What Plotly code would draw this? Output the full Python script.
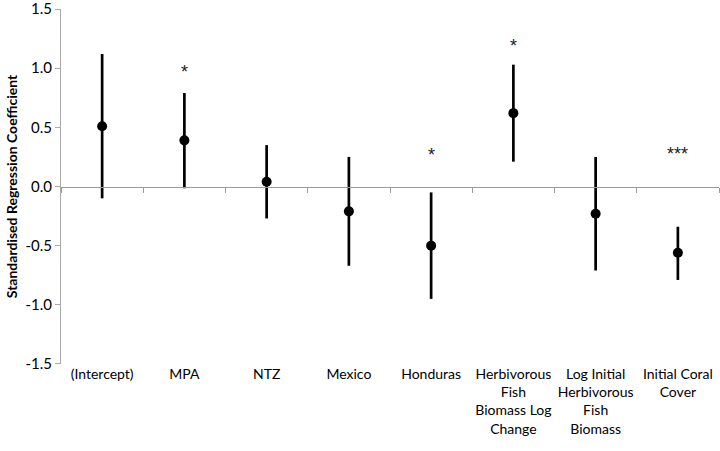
import plotly.graph_objects as go

categories = ["(Intercept)", "MPA", "NTZ", "Mexico", "Honduras",
              "Herbivorous<br>Fish<br>Biomass Log<br>Change",
              "Log Initial<br>Herbivorous<br>Fish<br>Biomass",
              "Initial Coral<br>Cover"]
estimates = [0.51, 0.39, 0.04, -0.21, -0.50, 0.62, -0.23, -0.56]
upper = [1.12, 0.79, 0.35, 0.25, -0.05, 1.03, 0.25, -0.34]
lower = [-0.10, -0.015, -0.27, -0.67, -0.95, 0.21, -0.71, -0.79]
sig_labels = ["", "*", "", "", "*", "*", "", "***"]
sig_y = [None, 0.965, None, None, 0.265, 1.19, None, 0.275]
y_ticks = [-1.5, -1.0, -0.5, 0.0, 0.5, 1.0, 1.5]

x = list(range(len(categories)))
err_plus = [u - e for u, e in zip(upper, estimates)]
err_minus = [e - l for e, l in zip(estimates, lower)]

font_family = "Lato, 'Open Sans', sans-serif"

fig = go.Figure()
fig.add_trace(go.Scatter(
    x=x, y=estimates, mode="markers",
    marker=dict(color="black", size=10),
    error_y=dict(type="data", symmetric=False, array=err_plus, arrayminus=err_minus,
                 color="black", thickness=2.7, width=0),
    showlegend=False, hoverinfo="skip",
))
# invisible trace for the zero-line axis
fig.add_trace(go.Scatter(x=[-0.5, 7.5], y=[0, 0], xaxis="x2", mode="lines",
                         line=dict(width=0), showlegend=False, hoverinfo="skip"))

for xi, lab, yy in zip(x, sig_labels, sig_y):
    if lab:
        fig.add_annotation(x=xi, y=yy, text=lab, showarrow=False,
                           font=dict(size=18, color="#222222",
                                     family="'Liberation Sans', Arial, sans-serif"))

fig.update_layout(
    width=720, height=451,
    margin=dict(l=61, r=1, t=9, b=87),
    paper_bgcolor="white", plot_bgcolor="white",
    font=dict(family=font_family, color="black", size=13),
    xaxis=dict(range=[-0.5, 7.5], tickvals=x, ticktext=categories,
               showline=False, showgrid=False, zeroline=False, ticks="",
               tickfont=dict(size=14), tickangle=0, automargin=False,
               ticklabeloverflow="allow"),
    xaxis2=dict(range=[-0.5, 7.5], overlaying="x", anchor="free", position=0.5,
                side="bottom", showline=True, linecolor="#9a9a9a", linewidth=1,
                ticks="outside", ticklen=5, tickcolor="#9a9a9a",
                tickvals=[i - 0.5 for i in range(len(categories) + 1)],
                showticklabels=False, showgrid=False, zeroline=False, automargin=False),
    yaxis=dict(range=[-1.5005, 1.5005], tickvals=y_ticks,
               ticktext=[f"{v:.1f}" for v in y_ticks],
               showline=True, linecolor="#aaaaaa", linewidth=1,
               ticks="outside", ticklen=5, tickcolor="#aaaaaa",
               showgrid=False, zeroline=False, tickfont=dict(size=15),
               automargin=False, ticklabeloverflow="allow",
               title=dict(text="<b>Standardised Regression Coefficient</b>",
                          font=dict(size=14), standoff=4)),
)

fig.write_html("out.html", config={"displayModeBar": False},
               post_script="document.body.style.margin='0px';")
